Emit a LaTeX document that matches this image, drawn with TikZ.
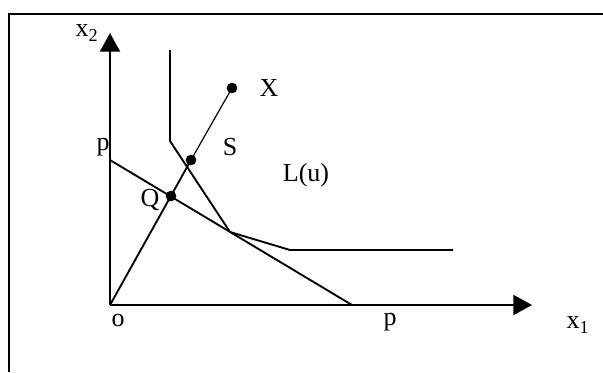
\documentclass[tikz,border=0pt]{standalone}
\usepackage{fontspec}
\setmainfont{Liberation Serif}
\usetikzlibrary{arrows.meta}

\begin{document}
\begin{tikzpicture}[>={Triangle[length=14pt,width=15pt]},x=0.75pt,y=-0.75pt,
    axis/.style={line width=1.5pt,->},
    thickline/.style={line width=1.4pt},
    dot/.style={circle,fill,inner sep=0pt,minimum size=8pt},
    lbl/.style={font=\fontsize{19.5}{23}\selectfont,inner sep=1pt}]
  \useasboundingbox (0,0) rectangle (603,372);
  \draw [line width=2pt] (9,372) -- (9,14) -- (603,14);
  % axes
  \coordinate (o) at (110,305);
  \coordinate (ytip) at (110,33);
  \coordinate (xtip) at (532,305);
  \draw [axis] (o) -- (ytip);
  \draw [axis] (o) -- (xtip);
  % budget line
  \coordinate (py) at (110,160);
  \coordinate (px) at (352,305);
  \draw [thickline] (py) -- (px);
  % isoquant
  \coordinate (l1) at (170,50);
  \coordinate (l2) at (170,141);
  \coordinate (l3) at (230,232);
  \coordinate (l4) at (290,250);
  \coordinate (l5) at (453,250);
  \draw [thickline] (l1) -- (l2) -- (l3) -- (l4) -- (l5);
  % ray
  \node [dot] (q) at (171,196) {};
  \node [dot] (s) at (191,160) {};
  \node [dot] (xp) at (232,88) {};
  \draw [thickline] (o) -- (s.center);
  \draw [line width=0.9pt] (s.center) -- (xp.center);
  % labels
  \node [lbl] (x2lab) at (87,33) {x\textsubscript{2}};
  \node [lbl] (x1lab) at (578,325) {x\textsubscript{1}};
  \node [lbl] (olab) at (118,320) {o};
  \node [lbl] (pxlab) at (390,322) {p};
  \node [lbl] (pylab) at (103,147) {p};
  \node [lbl] (qlab) at (150,200) {Q};
  \node [lbl] (slab) at (230,147) {S};
  \node [lbl] (xlab) at (269,88) {X};
  \node [lbl] (llab) at (306,175) {L(u)};
\end{tikzpicture}
\end{document}
